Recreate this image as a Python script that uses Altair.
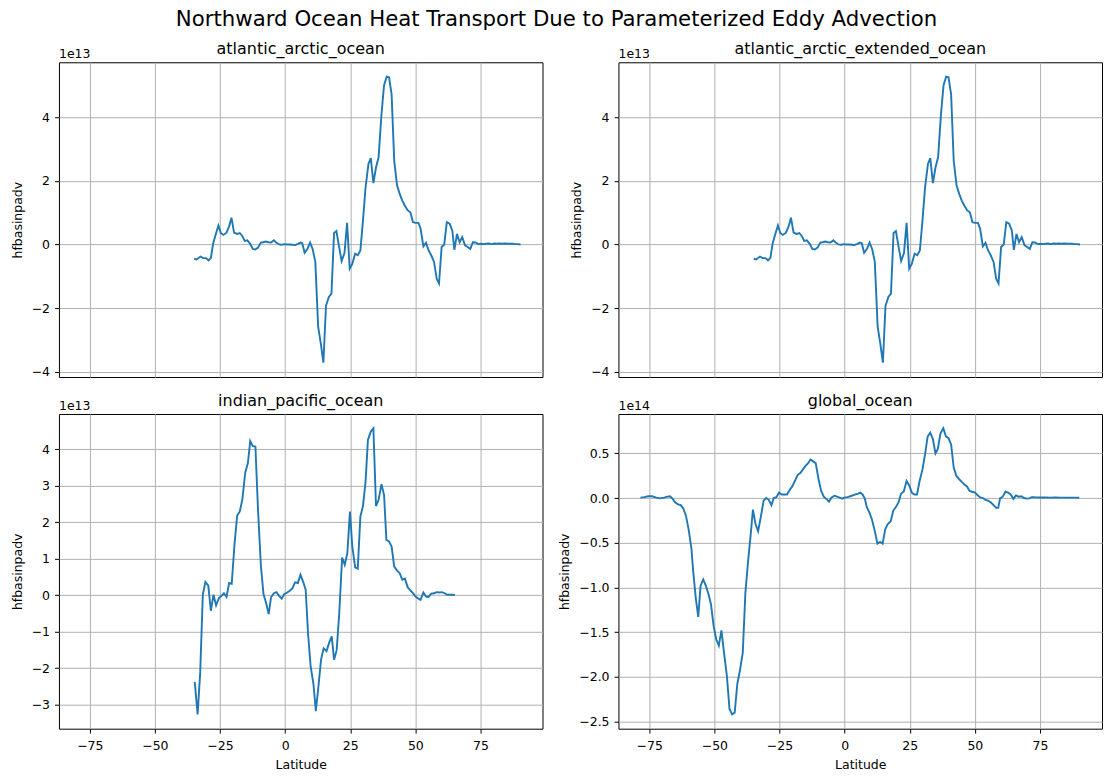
import altair as alt
import pandas as pd

# Northward heat transport from parameterized eddy advection, per basin.
# Latitudes in degrees north; values in units of 10**exp W.

atl_lat = [-34.9, -34.0, -32.5, -31.5, -30.4, -29.4, -28.5, -27.6, -26.6, -25.6,
           -24.7, -23.7, -22.5, -21.5, -20.6, -19.6, -18.4, -17.4, -16.4, -15.5,
           -14.5, -13.4, -12.4, -11.4, -10.4, -9.3, -8.4, -7.4, -6.4, -5.4,
           -4.3, -3.3, -2.3, -1.3, -0.3, 0.8, 1.8, 2.8, 3.8, 4.9,
           5.9, 6.6, 7.5, 8.6, 9.6, 10.6, 11.6, 12.7, 13.7, 14.7,
           15.7, 16.8, 17.8, 18.8, 19.7, 20.7, 21.7, 22.8, 23.8, 24.8,
           25.8, 26.9, 27.9, 28.9, 29.9, 30.9, 32.0, 32.9, 33.9, 34.9,
           35.9, 37.0, 38.0, 39.0, 39.9, 40.9, 41.9, 43.0, 44.0, 45.0,
           46.0, 47.1, 48.1, 49.1, 50.1, 51.2, 52.0, 53.1, 54.1, 55.1,
           56.1, 57.2, 58.2, 59.1, 60.1, 61.1, 62.1, 63.2, 64.2, 65.0,
           66.0, 67.0, 68.0, 69.1, 70.1, 71.1, 72.1, 73.1, 74.2, 75.2,
           76.2, 77.2, 78.2, 79.2, 80.3, 81.3, 82.3, 83.3, 84.3, 85.3,
           86.3, 87.3, 88.4, 89.4, 90.4]
atl_val = [-0.45, -0.47, -0.38, -0.43, -0.43, -0.50, -0.42, 0.04, 0.33, 0.60,
           0.36, 0.30, 0.37, 0.57, 0.84, 0.37, 0.33, 0.36, 0.26, 0.11,
           0.13, 0.02, -0.14, -0.16, -0.10, 0.06, 0.07, 0.09, 0.07, 0.06,
           0.13, 0.05, 0.00, -0.01, 0.01, 0.00, 0.00, -0.01, -0.02, 0.02,
           0.06, 0.04, -0.26, -0.14, 0.06, -0.15, -0.55, -2.59, -3.11, -3.72,
           -1.93, -1.65, -1.55, 0.36, 0.42, -0.06, -0.52, -0.27, 0.68, -0.76,
           -0.61, -0.29, -0.34, -0.19, 0.75, 1.80, 2.53, 2.72, 1.93, 2.42,
           2.74, 4.09, 5.01, 5.28, 5.26, 4.72, 2.63, 1.85, 1.59, 1.38,
           1.22, 1.07, 1.01, 0.70, 0.68, 0.68, 0.51, -0.06, 0.05, -0.19,
           -0.34, -0.55, -1.08, -1.23, -0.08, 0.00, 0.70, 0.65, 0.44, -0.17,
           0.33, 0.07, 0.23, -0.03, -0.08, -0.14, 0.07, 0.06, 0.01, 0.02,
           0.01, 0.02, 0.03, 0.01, 0.03, 0.02, 0.03, 0.02, 0.03, 0.02,
           0.02, 0.02, 0.01, 0.01, 0.00]

# the extended Atlantic-Arctic basin carries the same transport here
atlx_lat = list(atl_lat)
atlx_val = list(atl_val)

ip_lat = [-34.7, -33.6, -32.6, -31.6, -30.6, -29.5, -28.5, -27.5, -26.5, -25.4,
          -24.4, -23.5, -22.5, -21.5, -20.5, -19.4, -18.4, -17.4, -16.4, -15.3,
          -14.3, -13.4, -12.4, -11.4, -10.4, -9.3, -8.3, -7.3, -6.3, -5.4,
          -4.3, -3.3, -2.3, -1.3, -0.3, 0.8, 1.8, 2.8, 3.8, 4.9,
          5.9, 6.9, 7.9, 8.8, 9.8, 10.9, 11.8, 12.8, 13.8, 14.8,
          15.9, 16.9, 17.9, 18.8, 19.8, 20.8, 21.9, 22.9, 23.9, 24.9,
          25.8, 26.9, 27.9, 28.9, 29.9, 30.9, 31.8, 32.9, 33.9, 34.9,
          35.9, 37.0, 38.0, 38.9, 39.9, 40.9, 41.9, 43.0, 44.0, 45.0,
          46.0, 47.1, 48.1, 49.1, 50.1, 51.2, 52.0, 53.1, 54.1, 55.1,
          56.1, 57.2, 58.2, 59.2, 60.2, 61.3, 62.1, 63.2, 64.2, 65.2]
ip_val = [-2.38, -3.27, -2.13, 0.01, 0.36, 0.26, -0.43, 0.01, -0.28, -0.08,
          -0.02, 0.05, -0.05, 0.33, 0.31, 1.42, 2.18, 2.29, 2.63, 3.36,
          3.61, 4.22, 4.08, 4.07, 2.33, 0.81, 0.03, -0.22, -0.52, -0.06,
          0.05, 0.08, -0.02, -0.10, 0.03, 0.07, 0.12, 0.18, 0.35, 0.33,
          0.56, 0.37, 0.15, -1.04, -1.95, -2.45, -3.18, -2.50, -1.77, -1.46,
          -1.54, -1.31, -1.13, -1.77, -1.51, -0.49, 1.03, 0.83, 1.15, 2.29,
          1.33, 0.76, 0.72, 2.15, 2.44, 3.11, 4.25, 4.48, 4.57, 2.44,
          2.61, 3.04, 2.74, 1.51, 1.47, 1.33, 0.78, 0.67, 0.60, 0.42,
          0.45, 0.21, 0.13, 0.05, -0.04, -0.10, -0.13, 0.07, -0.04, -0.05,
          0.04, 0.05, 0.08, 0.07, 0.08, 0.05, 0.01, 0.01, 0.01, 0.00]

glo_lat = [-78.4, -76.9, -75.4, -73.9, -72.3, -70.8, -69.3, -68.0, -67.0, -66.0,
           -65.0, -63.9, -62.9, -61.9, -60.9, -59.9, -58.8, -58.1, -57.1, -56.2,
           -55.3, -54.3, -53.3, -52.3, -51.3, -50.3, -49.3, -48.3, -47.3, -46.3,
           -45.2, -44.2, -43.2, -42.2, -41.2, -40.2, -39.1, -38.1, -37.1, -36.1,
           -35.2, -34.2, -33.2, -32.1, -31.1, -30.1, -29.1, -28.1, -27.2, -26.2,
           -25.2, -24.1, -23.1, -22.1, -21.1, -20.1, -19.1, -18.0, -17.0, -16.0,
           -15.0, -14.0, -13.1, -12.1, -11.1, -10.0, -9.0, -8.0, -7.0, -6.0,
           -5.0, -3.9, -2.9, -1.9, -0.9, 0.1, 1.1, 2.2, 3.2, 4.2,
           5.2, 6.0, 6.9, 7.8, 8.5, 9.5, 10.5, 11.6, 12.6, 13.6,
           14.6, 15.6, 16.6, 17.7, 18.7, 19.7, 20.7, 21.7, 22.7, 23.8,
           24.8, 25.8, 26.8, 27.8, 28.8, 29.9, 30.9, 31.9, 32.9, 33.9,
           34.9, 35.8, 36.8, 37.9, 38.9, 39.9, 40.9, 41.9, 42.9, 44.0,
           45.0, 46.0, 47.0, 48.0, 49.0, 50.1, 51.1, 52.1, 53.1, 54.1,
           55.1, 56.2, 57.2, 58.2, 59.0, 59.7, 60.7, 61.8, 62.8, 63.8,
           64.8, 65.8, 66.8, 67.9, 68.9, 69.9, 70.9, 71.9, 73.0, 75.0,
           77.0, 79.0, 81.0, 83.0, 85.0, 87.0, 89.0, 90.1]
glo_val = [0.004, 0.010, 0.020, 0.020, 0.004, -0.004, 0.004, 0.015, 0.020, -0.010,
           -0.050, -0.070, -0.080, -0.120, -0.200, -0.350, -0.570, -0.830, -1.130, -1.330,
           -0.980, -0.910, -0.980, -1.070, -1.190, -1.430, -1.580, -1.650, -1.480, -1.730,
           -1.990, -2.360, -2.420, -2.400, -2.080, -1.930, -1.730, -1.060, -0.720, -0.420,
           -0.130, -0.290, -0.370, -0.200, -0.030, 0.000, -0.020, -0.080, 0.000, 0.010,
           0.060, 0.040, 0.040, 0.040, 0.090, 0.130, 0.190, 0.260, 0.280, 0.320,
           0.360, 0.390, 0.430, 0.410, 0.390, 0.210, 0.080, 0.015, -0.010, -0.040,
           0.007, 0.026, 0.015, 0.004, -0.007, 0.007, 0.010, 0.020, 0.030, 0.040,
           0.050, 0.060, 0.040, -0.010, -0.100, -0.160, -0.240, -0.370, -0.510, -0.490,
           -0.510, -0.350, -0.290, -0.260, -0.140, -0.100, -0.050, 0.050, 0.070, 0.190,
           0.140, 0.060, 0.040, 0.040, 0.190, 0.320, 0.490, 0.690, 0.730, 0.660,
           0.500, 0.550, 0.720, 0.780, 0.690, 0.670, 0.600, 0.340, 0.250, 0.210,
           0.180, 0.150, 0.130, 0.080, 0.070, 0.060, 0.030, 0.007, 0.000, -0.020,
           -0.030, -0.050, -0.080, -0.110, -0.110, -0.004, 0.015, 0.070, 0.060, 0.040,
           -0.010, 0.030, 0.015, 0.020, 0.000, -0.007, -0.004, 0.010, 0.008, 0.006,
           0.007, 0.005, 0.006, 0.005, 0.005, 0.004, 0.004, 0.003]

X_TICKS = [-75, -50, -25, 0, 25, 50, 75]
LINE_COLOR = "#1f77b4"
FONT = "DejaVu Sans"
PANEL_W, PANEL_H = 484, 315


def padded(values):
    lo, hi = min(values), max(values)
    pad = 0.05 * (hi - lo)
    return lo - pad, hi + pad


# shared latitude range for every panel (union of all basins, 5% margins)
X_DOMAIN = list(padded(atl_lat + ip_lat + glo_lat))


def panel(name, lat, val, exp, yticks, fmt, bottom):
    scale = 10 ** exp
    df = pd.DataFrame({"lat": lat, "hfbasinpadv": [v * scale for v in val]})
    lo, hi = padded(val)
    if bottom:
        xaxis = alt.Axis(values=X_TICKS, title="Latitude", format="d")
    else:
        xaxis = alt.Axis(values=X_TICKS, labels=False, ticks=False, title=None)
    yaxis = alt.Axis(
        values=[t * scale for t in yticks],
        labelExpr=f"format(datum.value / {scale:.0e}, '{fmt}')",
        title="hfbasinpadv",
    )
    line = alt.Chart(df).mark_line(color=LINE_COLOR, strokeWidth=1.9).encode(
        x=alt.X("lat:Q", scale=alt.Scale(domain=X_DOMAIN, nice=False, zero=False), axis=xaxis),
        y=alt.Y("hfbasinpadv:Q",
                scale=alt.Scale(domain=[lo * scale, hi * scale], nice=False, zero=False),
                axis=yaxis),
    )
    exponent = alt.Chart(pd.DataFrame({"t": [f"1e{exp}"]})).mark_text(
        align="left", baseline="alphabetic", font=FONT, fontSize=12.5, color="black"
    ).encode(x=alt.value(0), y=alt.value(-4), text="t:N")
    return alt.layer(line, exponent).properties(
        width=PANEL_W, height=PANEL_H,
        title=alt.TitleParams(name, fontSize=16, font=FONT, fontWeight="normal",
                              color="black", anchor="middle", offset=-9),
    )


p1 = panel("atlantic_arctic_ocean", atl_lat, atl_val, 13, [-4, -2, 0, 2, 4], "d", False)
p2 = panel("atlantic_arctic_extended_ocean", atlx_lat, atlx_val, 13, [-4, -2, 0, 2, 4], "d", False)
p3 = panel("indian_pacific_ocean", ip_lat, ip_val, 13, [-3, -2, -1, 0, 1, 2, 3, 4], "d", True)
p4 = panel("global_ocean", glo_lat, glo_val, 14, [-2.5, -2.0, -1.5, -1.0, -0.5, 0.0, 0.5], ".1f", True)

chart = alt.concat(
    p1, p2, p3, p4, columns=2, spacing={"row": 37, "column": 76}, bounds="flush"
).properties(
    title=alt.TitleParams(
        "Northward Ocean Heat Transport Due to Parameterized Eddy Advection",
        fontSize=21.3, font=FONT, fontWeight="normal", color="black", anchor="middle", offset=11,
    ),
    padding={"left": 10, "top": 8, "right": 9, "bottom": 10},
    background="white",
).configure_view(
    stroke="black", strokeWidth=1
).configure_axis(
    grid=True, gridColor="#b0b0b0", gridWidth=1, gridOpacity=1, domain=False,
    ticks=True, tickColor="black", tickWidth=1, tickSize=4.4,
    labelFont=FONT, labelFontSize=12.5, labelColor="black", labelPadding=5,
    titleFont=FONT, titleFontSize=12.5, titleFontWeight="normal", titleColor="black",
    titlePadding=7,
).configure_axisX(
    labelPadding=6.5, titlePadding=6
)

chart.save("out.html", embed_options={"renderer": "svg", "actions": False})
